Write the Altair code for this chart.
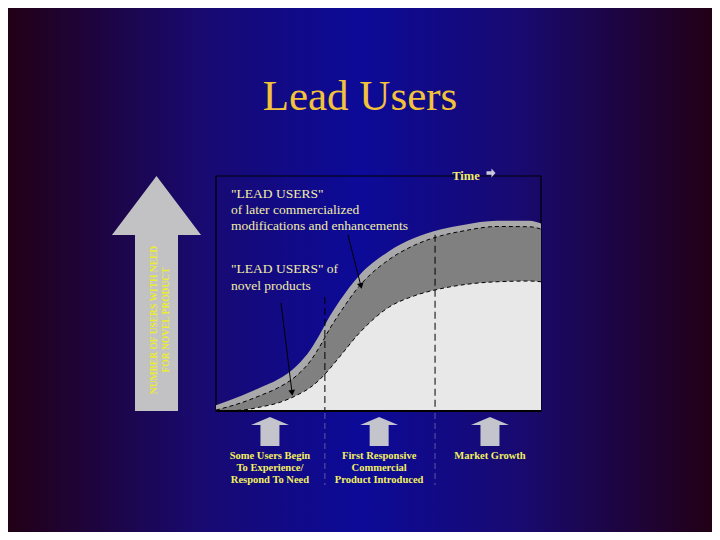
import altair as alt
import pandas as pd

# ---- data (time 0-100, users 0-100) ----
time_pts = [0, 8, 14, 19, 25, 29, 32, 35, 38, 44, 53, 61, 69, 76, 86.5, 96.5, 100]
all_users = [2.4, 6.6, 10.2, 13.4, 19.5, 26.0, 32.8, 40.3, 46.8, 57.6, 67.8, 73.6, 77.2, 79.2, 81.0, 81.0, 79.8]
later_users = [0.4, 3.6, 6.8, 9.8, 15.3, 21.2, 27.6, 35.0, 41.5, 53.0, 64.2, 70.5, 74.5, 76.6, 78.5, 78.4, 77.4]
novel_users = [0, 0.4, 1.8, 3.4, 6.8, 10.0, 13.5, 18.0, 23.0, 33.0, 44.0, 49.0, 52.0, 53.7, 55.0, 55.3, 55.0]

divider_times = [33.5, 67.4]
divider_tops = [48.5, 75.0]
stage_times = [16.6, 50.2, 84.3]
stage_labels = ["Some Users Begin\nTo Experience/\nRespond To Need",
                "First Responsive\nCommercial\nProduct Introduced",
                "Market Growth"]
title_text = "Lead Users"
lead_later_text = '"LEAD USERS"\nof later commercialized\nmodifications and enhancements'
lead_novel_text = '"LEAD USERS" of\nnovel products'
y_axis_text = "NUMBER OF USERS WITH NEED\nFOR NOVEL PRODUCT"
pointer_from_t = [40.6, 20.0]
pointer_from_u = [74.9, 46.0]
pointer_to_t = [44.6, 23.4]
pointer_to_u = [53.2, 7.7]

W, H = 325, 235
xs = alt.Scale(domain=[0, 100], nice=False, zero=False)
ys = alt.Scale(domain=[0, 100], nice=False, zero=False)

curves = pd.DataFrame({"t": time_pts, "all": all_users, "later": later_users, "novel": novel_users})
one = pd.DataFrame({"k": [0]})

bg = alt.Chart(one).mark_rect(
    fill=alt.Gradient(
        gradient="linear", x1=0, y1=0, x2=1, y2=0,
        stops=[alt.GradientStop(offset=0, color="#220016"),
               alt.GradientStop(offset=0.28, color="#180a72"),
               alt.GradientStop(offset=0.5, color="#0c0a98"),
               alt.GradientStop(offset=0.72, color="#180a72"),
               alt.GradientStop(offset=1, color="#220016")]),
).encode(x=alt.value(-208), x2=alt.value(496), y=alt.value(-168), y2=alt.value(356))

X = alt.X("t:Q", scale=xs, axis=None)

rim = alt.Chart(curves).mark_area(color="#a9a9ab", interpolate="monotone").encode(
    x=X, y=alt.Y("all:Q", scale=ys, axis=None))
band = alt.Chart(curves).mark_area(color="#808080", interpolate="monotone").encode(
    x=X, y=alt.Y("later:Q", scale=ys, axis=None))
light = alt.Chart(curves).mark_area(color="#e8e8e8", interpolate="monotone").encode(
    x=X, y=alt.Y("novel:Q", scale=ys, axis=None))
band_line = alt.Chart(curves).mark_line(color="black", strokeWidth=1, strokeDash=[4, 3],
                                        interpolate="monotone").encode(
    x=X, y=alt.Y("later:Q", scale=ys, axis=None))
light_line = alt.Chart(curves).mark_line(color="black", strokeWidth=1, strokeDash=[4, 3],
                                         interpolate="monotone").encode(
    x=X, y=alt.Y("novel:Q", scale=ys, axis=None))

frame = alt.Chart(one).mark_rect(filled=False, stroke="black", strokeWidth=1.2).encode(
    x=alt.value(0), x2=alt.value(W), y=alt.value(0), y2=alt.value(H))
frame_base = alt.Chart(one).mark_rule(color="black", strokeWidth=2).encode(
    x=alt.value(0), x2=alt.value(W), y=alt.value(H))

div_df = pd.DataFrame({"t": divider_times, "top": divider_tops})
dividers = alt.Chart(div_df).mark_rule(color="black", strokeWidth=1, strokeDash=[7, 4]).encode(
    x=X, y=alt.Y("top:Q", scale=ys, axis=None), y2=alt.value(H))
dividers_below = alt.Chart(div_df).mark_rule(color="#5a5aa8", strokeWidth=1, strokeDash=[6, 4]).encode(
    x=X, y=alt.value(H + 2), y2=alt.value(309))

ptr_df = pd.DataFrame({"t": pointer_from_t, "u": pointer_from_u, "t2": pointer_to_t, "u2": pointer_to_u})
pointers = alt.Chart(ptr_df).mark_rule(color="black", strokeWidth=1).encode(
    x=X, y=alt.Y("u:Q", scale=ys, axis=None), x2="t2:Q", y2="u2:Q")
heads = []
for i, ang in enumerate([345.7, 353.0]):
    heads.append(alt.Chart(ptr_df.iloc[[i]]).mark_point(
        shape="triangle-down", filled=True, color="black", opacity=1, size=45, angle=ang).encode(
        x=alt.X("t2:Q", scale=xs, axis=None), y=alt.Y("u2:Q", scale=ys, axis=None)))

# big vertical arrow on the left
big_arrow_path = "M0,-1 L0.379,-0.498 L0.183,-0.498 L0.183,1 L-0.183,1 L-0.183,-0.498 L-0.379,-0.498 Z"
big_arrow = alt.Chart(one).mark_point(shape=big_arrow_path, filled=True, color="#c2c2c4",
                                      opacity=1, size=235 * 235, strokeWidth=0).encode(
    x=alt.value(-59.5), y=alt.value(117.5))
yax = alt.Chart(one).mark_text(
    text=y_axis_text, lineBreak="\n", lineHeight=12, angle=270, font="Liberation Serif",
    fontWeight="bold", fontSize=9.5, color="#ecec30", align="center", baseline="middle").encode(
    x=alt.value(-62), y=alt.value(144))

# small arrows under the plot
small_arrow_path = "M0,-0.763 L1,-0.342 L0.5,-0.342 L0.5,0.763 L-0.5,0.763 L-0.5,-0.342 L-1,-0.342 Z"
stage_df = pd.DataFrame({"t": stage_times, "label": stage_labels})
small_arrows = alt.Chart(stage_df).mark_point(shape=small_arrow_path, filled=True, color="#c4c4cc",
                                              opacity=1, size=38 * 38, strokeWidth=0).encode(
    x=X, y=alt.value(255.5))
stage_text = alt.Chart(stage_df).mark_text(
    font="Liberation Serif", fontWeight="bold", fontSize=10.5, color="#f2f060", lineBreak="\n",
    lineHeight=12, align="center", baseline="top").encode(x=X, y=alt.value(275), text="label:N")

title = alt.Chart(one).mark_text(text=title_text, font="Liberation Serif", fontSize=43,
                                 color="#f2c23a", align="center", baseline="alphabetic").encode(
    x=alt.value(144), y=alt.value(-66))

later_txt = alt.Chart(one).mark_text(text=lead_later_text, lineBreak="\n", lineHeight=16,
                                     font="Liberation Serif", fontSize=13.5, color="#f2eea6",
                                     align="left", baseline="top").encode(
    x=alt.value(15), y=alt.value(11))
novel_txt = alt.Chart(one).mark_text(text=lead_novel_text, lineBreak="\n", lineHeight=17,
                                     font="Liberation Serif", fontSize=13.5, color="#f2eea6",
                                     align="left", baseline="top").encode(
    x=alt.value(15), y=alt.value(86))

time_txt = alt.Chart(one).mark_text(text="Time", font="Liberation Serif", fontWeight="bold",
                                    fontSize=12.5, color="#f0f070", align="center",
                                    baseline="middle").encode(x=alt.value(250), y=alt.value(0))
time_arrow = alt.Chart(one).mark_point(
    shape="M-1,-0.4 L0.1,-0.4 L0.1,-1 L1,0 L0.1,1 L0.1,0.4 L-1,0.4 Z",
    filled=True, color="#c8c8dc", opacity=1, size=81, strokeWidth=0).encode(
    x=alt.value(275), y=alt.value(-3))

chart = alt.layer(
    bg, frame, rim, band, light, band_line, light_line, frame_base, dividers, dividers_below,
    pointers, *heads, big_arrow, yax, small_arrows, stage_text, title,
    later_txt, novel_txt, time_txt, time_arrow
).properties(
    width=W, height=H,
    padding={"left": 208, "top": 168, "right": 171, "bottom": 121},
    autosize=alt.AutoSizeParams(type="none"),
    background="#140a70",
).configure_view(stroke=None)

chart.save("out.html", embed_options={"renderer": "svg", "actions": False})
